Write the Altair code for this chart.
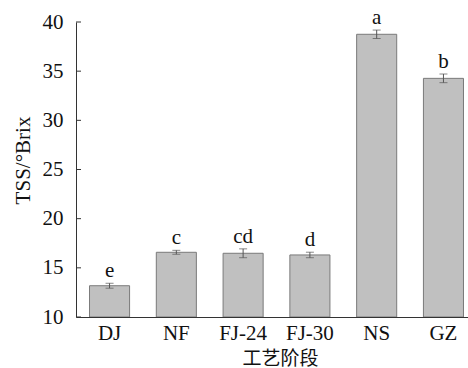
import altair as alt
import pandas as pd

stages = ["DJ", "NF", "FJ-24", "FJ-30", "NS", "GZ"]
tss = [13.18, 16.58, 16.48, 16.31, 38.75, 34.27]
err = [0.25, 0.2, 0.45, 0.28, 0.43, 0.44]
letters = ["e", "c", "cd", "d", "a", "b"]
yticks = [10, 15, 20, 25, 30, 35, 40]

df = pd.DataFrame({"stage": stages, "tss": tss, "err": err, "letter": letters})
df["lo"] = df["tss"] - df["err"]
df["hi"] = df["tss"] + df["err"]
tick_df = pd.DataFrame({"t": yticks})

FONT = "Liberation Serif"
CJK = "Noto Sans CJK SC"
FS = 21

xenc = alt.X(
    "stage:N",
    sort=stages,
    scale=alt.Scale(paddingInner=0.4, paddingOuter=0.135, align=0.75),
    axis=alt.Axis(
        title="工艺阶段",
        titleFont=CJK,
        titleFontSize=19,
        titleFontWeight="normal",
        titleColor="#111",
        titleX=204,
        titleY=41,
        titleBaseline="middle",
        labelAngle=0,
        labelFont=FONT,
        labelFontSize=FS,
        labelColor="#111",
        labelPadding=5,
        ticks=False,
        domainColor="#333",
        domainWidth=1,
        zindex=1,
    ),
)
yscale = alt.Scale(domain=[10, 40], nice=False, zero=False)
yenc = alt.Y(
    "tss:Q",
    scale=yscale,
    axis=alt.Axis(
        title="TSS/°Brix",
        titleFont=FONT,
        titleFontSize=FS,
        titleFontWeight="normal",
        titleColor="#111",
        titleAngle=-90,
        titleX=-53,
        titleY=138,
        titleAlign="center",
        titleBaseline="middle",
        values=yticks,
        labelFont=FONT,
        labelFontSize=FS,
        labelColor="#111",
        labelPadding=13,
        tickSize=0,
        grid=False,
        domainColor="#333",
        domainWidth=1,
        zindex=1,
    ),
)

base = alt.Chart(df)
bars = base.mark_bar(color="#c0c0c0", stroke="#7a7a7a", strokeWidth=1).encode(
    x=xenc, y=yenc, y2=alt.datum(10)
)
rules = base.mark_rule(color="#555", strokeWidth=1).encode(
    x=alt.X("stage:N", sort=stages), y=alt.Y("lo:Q", scale=yscale), y2="hi:Q"
)
caps_hi = base.mark_tick(color="#555", size=8, thickness=1, orient="horizontal").encode(
    x=alt.X("stage:N", sort=stages), y=alt.Y("hi:Q", scale=yscale)
)
caps_lo = base.mark_tick(color="#555", size=8, thickness=1, orient="horizontal").encode(
    x=alt.X("stage:N", sort=stages), y=alt.Y("lo:Q", scale=yscale)
)
text = base.mark_text(font=FONT, fontSize=FS, color="#111", baseline="alphabetic", dy=-6).encode(
    x=alt.X("stage:N", sort=stages), y=alt.Y("hi:Q", scale=yscale), text="letter:N"
)
inticks = alt.Chart(tick_df).mark_rule(color="#333", strokeWidth=1).encode(
    y=alt.Y("t:Q", scale=yscale), x=alt.value(0), x2=alt.value(5)
)

chart = (
    alt.layer(bars, rules, caps_hi, caps_lo, text, inticks)
    .properties(
        width=392,
        height=295,
        autosize=alt.AutoSizeParams(type="none"),
        padding={"left": 76, "top": 22, "right": 0, "bottom": 51},
        background="white",
    )
    .configure_view(stroke=None)
)

chart.save("out.html", embed_options={"renderer": "svg", "actions": False})
